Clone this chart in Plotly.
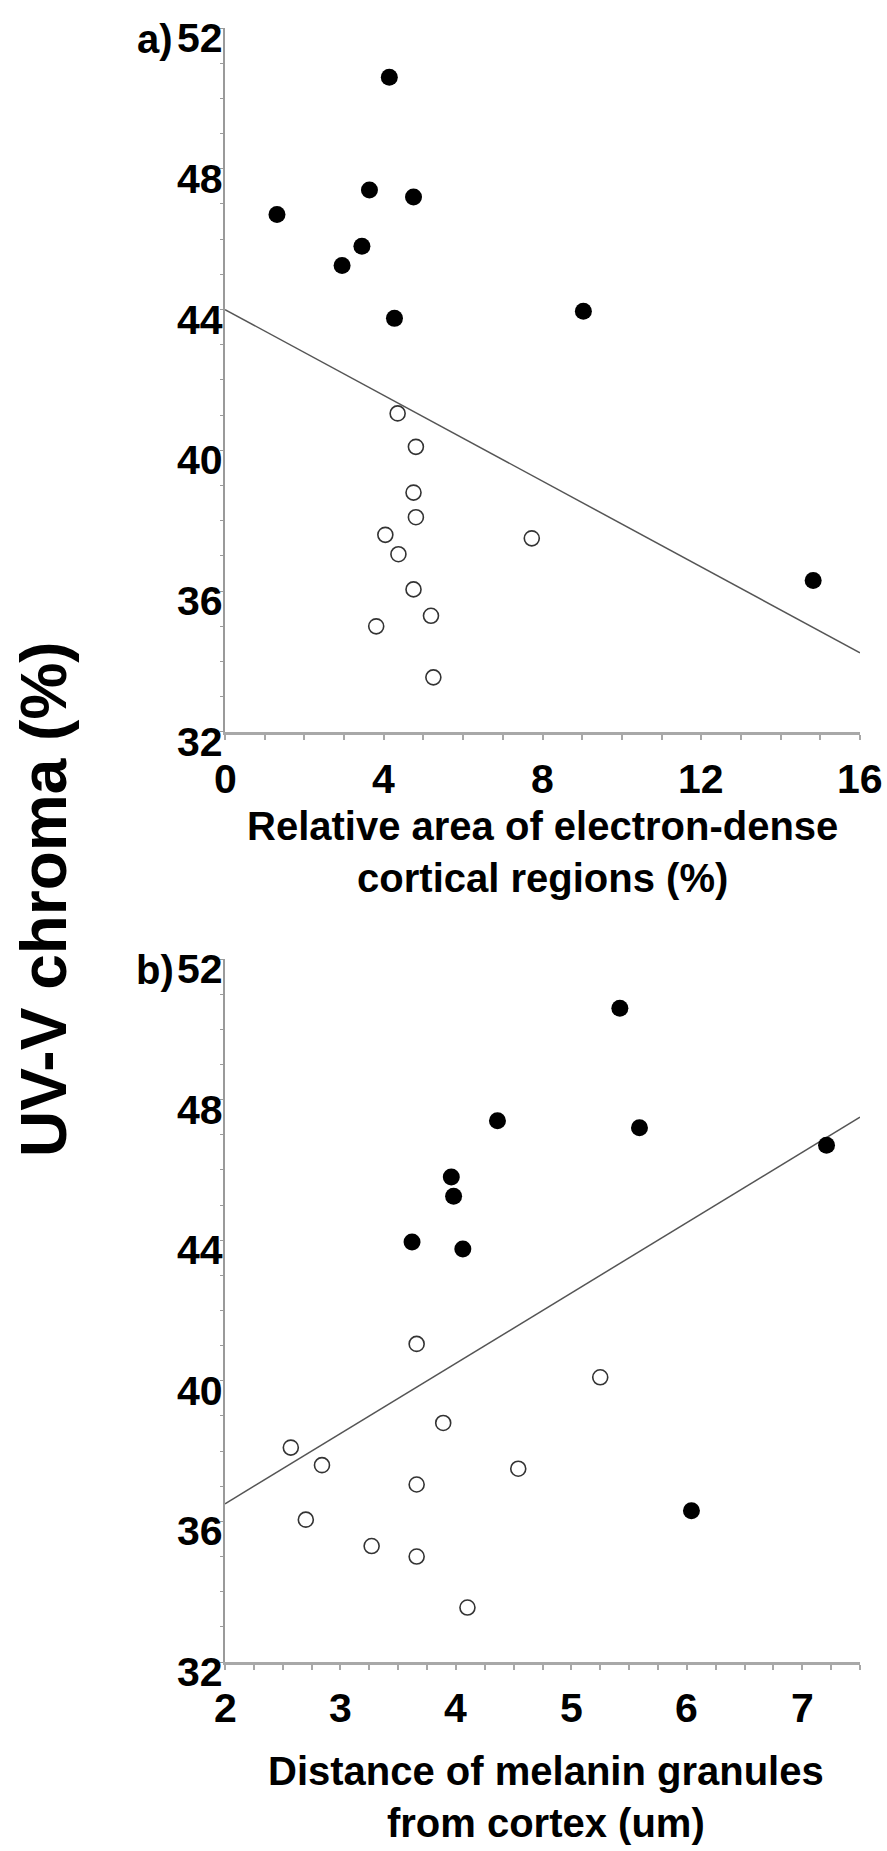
import plotly.graph_objects as go

# UV-V chroma (%) of the two plumage groups
chroma_dark = [50.6, 47.4, 47.2, 46.7, 45.8, 45.25, 43.95, 43.75, 36.3]
chroma_light = [41.05, 40.1, 38.8, 38.1, 37.6, 37.5, 37.05, 36.05, 35.3, 35.0, 33.55]

# a) relative area of electron-dense cortical regions (%)
area_dark = [4.14, 3.64, 4.75, 1.31, 3.45, 2.95, 9.03, 4.27, 14.82]
area_light = [4.35, 4.81, 4.75, 4.81, 4.04, 7.73, 4.37, 4.75, 5.19, 3.81, 5.25]

# b) distance of melanin granules from cortex (um)
dist_dark = [5.42, 4.36, 5.59, 7.21, 3.96, 3.98, 3.62, 4.06, 6.04]
dist_light = [3.66, 5.25, 3.89, 2.57, 2.84, 4.54, 3.66, 2.70, 3.27, 3.66, 4.10]

# fitted regression lines (end points)
fit_a_x = [0, 16]
fit_a_y = [44.0, 34.25]
fit_b_x = [2, 7.5]
fit_b_y = [36.5, 47.5]

# tick values
y_ticks = [32, 36, 40, 44, 48, 52]
xa_ticks = [0, 4, 8, 12, 16]
xb_ticks = [2, 3, 4, 5, 6, 7]

FONT = "Liberation Sans, Arial, sans-serif"
LINE_C = "#555555"
W, H = 887, 1851
ML, MR, MT, MB = 225, 27, 28, 189

fig = go.Figure()


def add_panel(xa, ya, x_dark, x_light, fx, fy):
    fig.add_trace(go.Scatter(x=fx, y=fy, mode="lines", xaxis=xa, yaxis=ya,
                             line=dict(color=LINE_C, width=1.5), showlegend=False,
                             hoverinfo="skip"))
    fig.add_trace(go.Scatter(x=x_light, y=chroma_light, mode="markers", xaxis=xa, yaxis=ya,
                             marker=dict(symbol="circle-open", size=15, color="#333333",
                                         line=dict(width=1.6)),
                             showlegend=False))
    fig.add_trace(go.Scatter(x=x_dark, y=chroma_dark, mode="markers", xaxis=xa, yaxis=ya,
                             marker=dict(symbol="circle", size=17, color="black"),
                             showlegend=False))


add_panel("x", "y", area_dark, area_light, fit_a_x, fit_a_y)
add_panel("x2", "y2", dist_dark, dist_light, fit_b_x, fit_b_y)

yaxis_common = dict(
    range=[32, 52], dtick=4, tick0=32, showgrid=False, zeroline=False, automargin=False,
    showline=True, linecolor="#9a9a9a", linewidth=1.5, showticklabels=False,
    ticks="outside", ticklen=3, tickcolor="#9a9a9a", tickwidth=1.2,
    minor=dict(dtick=1, ticks="outside", ticklen=3, tickcolor="#9a9a9a", tickwidth=1.2),
)
xaxis_common = dict(
    showgrid=False, zeroline=False, automargin=False, showticklabels=False,
    showline=True, linecolor="#a8a8a8", linewidth=3,
    ticks="outside", ticklen=5, tickcolor="#a8a8a8", tickwidth=1.5,
)

fig.update_layout(
    width=W, height=H,
    margin=dict(l=ML, r=MR, t=MT, b=MB, autoexpand=False),
    paper_bgcolor="white", plot_bgcolor="white",
    xaxis=dict(domain=[0, 1], anchor="y", range=[0, 16], dtick=4, tick0=0,
               minor=dict(dtick=1, ticks="outside", ticklen=5, tickcolor="#a8a8a8", tickwidth=1.5),
               **xaxis_common),
    yaxis=dict(domain=[0.5692, 1], anchor="x", **yaxis_common),
    xaxis2=dict(domain=[0, 1], anchor="y2", range=[2, 7.5], dtick=1, tick0=2,
                minor=dict(dtick=0.25, ticks="outside", ticklen=5, tickcolor="#a8a8a8", tickwidth=1.5),
                **xaxis_common),
    yaxis2=dict(domain=[0, 0.4302], anchor="x2", **yaxis_common),
)


def px_x(x):
    return (x - ML) / (W - ML - MR)


def px_y(y):
    return (H - MB - y) / (H - MT - MB)


tick_font = dict(family=FONT, size=41, color="black", weight="bold")
label_font = dict(family=FONT, size=40, color="black", weight="bold")

# y tick labels for both panels, placed on each y axis scale
for yref in ("y", "y2"):
    for v in y_ticks:
        fig.add_annotation(xref="paper", yref=yref, x=px_x(225), y=v, yshift=-10,
                           xanchor="right", yanchor="middle", showarrow=False,
                           text=str(v), font=tick_font)

# x tick labels, placed on each x axis scale
for xref, ticks, ypx in (("x", xa_ticks, 779), ("x2", xb_ticks, 1708)):
    for v in ticks:
        fig.add_annotation(xref=xref, yref="paper", x=v, y=px_y(ypx),
                           xanchor="center", yanchor="middle", showarrow=False,
                           text=str(v), font=tick_font)

annotations = [
    dict(text="a)", x=155, y=39, font=label_font),
    dict(text="b)", x=155, y=970, font=label_font),
    dict(text="Relative area of electron-dense<br>cortical regions (%)", x=542, y=852,
         font=label_font),
    dict(text="Distance of melanin granules<br>from cortex (um)", x=546, y=1797,
         font=label_font),
    dict(text="UV-V chroma (%)", x=44, y=899, textangle=-90,
         font=dict(family=FONT, size=64, color="black", weight="bold")),
]
for a in annotations:
    fig.add_annotation(xref="paper", yref="paper", showarrow=False,
                       x=px_x(a["x"]), y=px_y(a["y"]),
                       xanchor="center", yanchor="middle",
                       text=a["text"], font=a["font"], textangle=a.get("textangle", 0))

fig.write_html("out.html")
